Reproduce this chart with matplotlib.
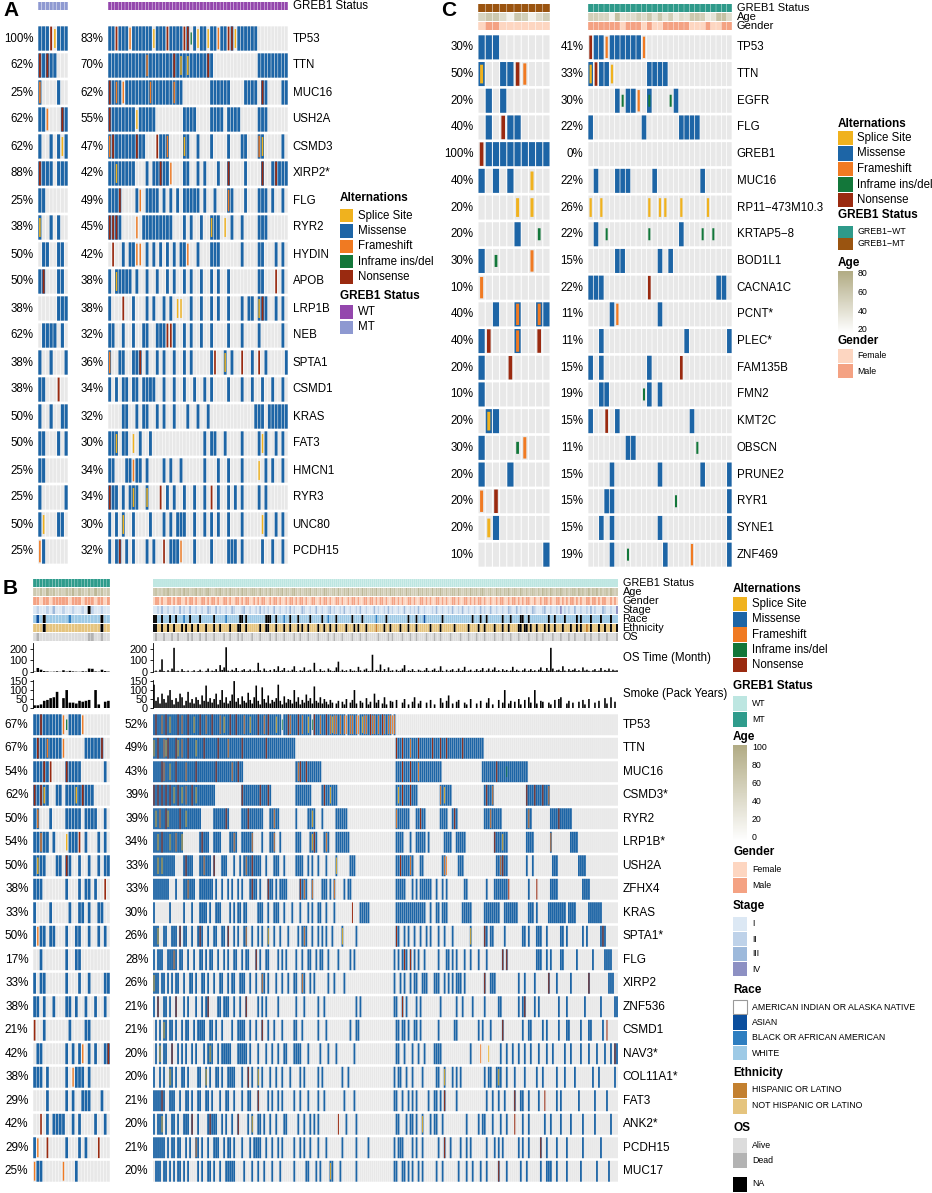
import numpy as np
import matplotlib
matplotlib.use("Agg")
import matplotlib.pyplot as plt
from matplotlib.colors import LinearSegmentedColormap, Normalize
from matplotlib.patches import Rectangle

plt.rcParams['font.family'] = ['Liberation Sans', 'DejaVu Sans']

W, H = 932, 1193

# mutation codes: M missense, S splice, F frameshift, I inframe, N nonsense,
# lower case s/f/i/n = missense plus that second hit, '.' = none

# ---------------- panel A ----------------
a_genes = ["TP53", "TTN", "MUC16", "USH2A", "CSMD3", "XIRP2*", "FLG", "RYR2", "HYDIN", "APOB",
           "LRP1B", "NEB", "SPTA1", "CSMD1", "KRAS", "FAT3", "HMCN1", "RYR3", "UNC80", "PCDH15"]
a_pct_mt = [100, 62, 25, 62, 62, 88, 25, 38, 50, 50, 38, 62, 38, 38, 50, 50, 25, 25, 50, 25]
a_pct_wt = [83, 70, 62, 55, 47, 42, 49, 45, 42, 38, 38, 32, 36, 34, 32, 30, 34, 34, 30, 32]
a_n_mt, a_n_wt = 8, 53
a_mt = ["MMMNSMMM", "nMnMM...", "f....M..", "MMF...nM", "M..M.MSM", "nMMM.MMM", "MM......",
        "s..M.M..", ".MM..MM.", "Mn...MM.", ".....MMM", ".MMMM.M.", "M..M...M", "MM...N..",
        "M..M..MM", "MM...M.M", "MM......", "M......M", "MS...MM.", "FM......"]
a_wt = [
    "MMNMMMFMMM MMMSMMMNMM MMNnIMSMMS MMFMMNnSMM MMMM...... ...",
    "MMMMMMMMMM MfMMMMMMMn MsMsMMMMMn M......... ....MMMMMM MMM",
    "nMfMFMMMMM MMfMMMMMMf MM........ MMMMMM.... MMMM.nM... .MM",
    "nMMMMMMMSM MMMM...... ..MMMM.... MMMM.MMMM. ....MMM... ...",
    "fnMMMMMMnM M...NMMf.. ..sM..M... M....M...M M...fs.... .M.",
    "MMsMMMMM.. .M.MMnMMF. ..MM..M.M. ..M..n.... M....n..Mn MMM",
    "MMMn....MF .MMMM.M.M. M.MMMMM.M. .M...fM... M...MMM.M. .M.",
    "nnnM....F. MMMMMMMMM. ..M.M..M.. sMM.S.M..M ....MMM... ...",
    ".N..M.MMFF .M.M.M.M.M .MMF..M... MMM......M ....MM...M .M.",
    "M.sMMMM.M. .M..M..M.M ..M.M..M.. M.M..M.... ....MM...N .M.",
    "M...N..M.. .M.M..M.M. SS..M..M.. M.M..M...M .MM.snM..M .M.",
    "MM..M..M.. MM..MMMNNM ..M.M..M.. M....M...M ....M..... .M.",
    "f..MM..MMn .M..M.M..M ..M.M..... MN..s.M..N ..M.N.M... ..M",
    "M.M.MM.MM. MMMM..M..M ..M..M..M. M....M...M ..M..M..M. .M.",
    "....MM..M. MM..M.M..M ...M..M..M .......... ...MMM.MMM MMM",
    "MMs.MM.S.M ..M....... ........M. MM..M....M ....MSM..M .M.",
    "MM...MMFMM .M....M.M. .M......M. ..M..M...M ....S.M.M. .M.",
    "nMM.M.MsM. .s...N.M.M ..M..M..M. N.M..M.M.M ....M.M... ...",
    "M.M.s..M.. ..M...M.M. MMM..M..M. M.M..M...M .....SM..M .M.",
    "M.Mn.M.M.. .M.M..N.MM MF...M.... M....MMM.M .....M..M. .M.",
]

# ---------------- panel C ----------------
c_genes = ["TP53", "TTN", "EGFR", "FLG", "GREB1", "MUC16", "RP11\u2212473M10.3", "KRTAP5\u22128",
           "BOD1L1", "CACNA1C", "PCNT*", "PLEC*", "FAM135B", "FMN2", "KMT2C", "OBSCN", "PRUNE2",
           "RYR1", "SYNE1", "ZNF469"]
c_pct_mt = [30, 50, 20, 40, 100, 40, 20, 20, 30, 10, 40, 40, 20, 10, 20, 30, 20, 20, 20, 10]
c_pct_wt = [41, 33, 30, 22, 0, 22, 26, 22, 15, 22, 11, 11, 15, 19, 15, 11, 15, 15, 15, 19]
c_n_mt, c_n_wt = 10, 27
c_mt = ["MMM", "s..MMNF", ".M.M", ".M.NMM", "NMMMMMMMMM", "M.M.M..S", ".....S.S", ".....M..I",
        "M.I....F", "F", "..M..f..fM", "MN...f..N", "M...N", "M", ".sM", "M....IF", "M...M",
        "F.N", ".SM", ".........M"]
c_wt = ["NMMFMMMMMMF", "sNMMS......MMMM", ".....MIMMF.i...IM", "M.........M......MMMM", "",
        ".M...MMM....M........M", "S.S........S.SS..S....S", ".M.I.......I.....M...I.I",
        ".....MM......M.M", "MMM........N............MM", "....MF.......M",
        "..M...............M.......M", "M.M........M.....N", "..MM......IM.M",
        "M..N.M.............M", ".......MM...........I", "....M........M.......M....M",
        "...MM...........I.........M", "..M.M........M............M",
        "....M..I......M....F......M"]
c_age_mt = [50, 60, 60, 45, 30, 60, 55, 30, 45, 55]
c_age_wt = [55, 55, 50, 50, 30, 65, 40, 45, 45, 55, 45, 60, 40, 60, 40, 55, 35, 45, 40, 60,
            60, 55, 35, 40, 65, 65, 45]
c_gender_mt = "FMMFFFFFFF"
c_gender_wt = "MMMMMMFMMMFMFFMMMMMFFFMFFMM"

# ---------------- panel B ----------------
b_genes = ["TP53", "TTN", "MUC16", "CSMD3*", "RYR2", "LRP1B*", "USH2A", "ZFHX4", "KRAS", "SPTA1*",
           "FLG", "XIRP2", "ZNF536", "CSMD1", "NAV3*", "COL11A1*", "FAT3", "ANK2*", "PCDH15", "MUC17"]
b_pct_mt = [67, 67, 54, 62, 50, 54, 50, 38, 33, 50, 17, 33, 38, 21, 42, 38, 29, 42, 29, 25]
b_pct_wt = [52, 49, 43, 39, 39, 34, 33, 33, 30, 26, 28, 26, 21, 21, 20, 20, 21, 20, 21, 20]
b_n_mt, b_n_wt = 24, 232
b_mt = ["MMnMMMMMMFIMMMMF", "MnMMfMMMMF......MMMMMn", "MMMnMN....nMMMM.......M",
        "nMnsM..MM.MMMsMnMMM", "Mf...M....MMMMM.MMMM..M", "MMfMM.M...SMMMN.M...M.M",
        "MsMM...MM.nM..M..M..M.MM", "MMM.......M...M.MM.M..N", "M....M.....M..MM.M..MM",
        "MFMM.MM...M..MM..M..M.M", "..M.......M..MM", "M.MM......M...M..M....MM",
        "MM.M..M...MM.M..M..M..M", "N..M.......M....MM", ".MM.......M.M.MF.M.M..Mn",
        "MMM.M.....M.FMMM.M", "....M.....M.M..MMM...M", "..N.M.MMMM..M.M....M..M",
        "MF..N.....M...M.M...N", "FMM......F...M"]
b_wt = [
    "MnMMfMnMsM MMnMfMMnMM sMMnMMfMMn MMMfMsMMnM MnMMMfMMsM MMnMMfMnMM MsMMIMMnfM MMnMfMMsMI "
    "nMMfMMnMfs ffMfMfFMff MfFMsffMnf fMfMnfMffF f.........",
    "sMnMMfsnMM MnsMfMMnMM MsMMMnMMMM MMnMMMMfMM MMMMnMMMMM MMMMMMnMMM MMMMMMMMMM M......... "
    ".......... .......... .......... .......... .nMMnMMMfM MMnMMMMMMn MMMnMMnMMM MMMMnMMMMM MMMMM.....",
    "MMMMnfMMsM MnMMMMfMMM MnMMMMMMMM MnMMMMMMMf MMnMM..... .......... .......... .MfnMMnMMM "
    "MMMM...... .......... .......... .......... .MMMnMMMnM MMfMMMMMMM MMMM...... .......... "
    "....MMMMMM MnMMMMiMMM MMMMMMM...",
    "nMnMnMnMnM sMnMsMfMMn MsMMMMMMMM M......... ....nMMMMM MMMnMMMnM. .......... .MMMMMMMM. "
    "....MnMMsM MM........ .......... .......... .MsMnMMMnM MM........ ...fMsMMM. .......... "
    ".....MnMMf .......... ......nMMM nMMMnMMf..",
    "MsMfMMnsMM MMMnMMsMMM MMMM...... MMMMMMnM.. ....MMMnMM MMMMM...MM fMM....... .M.....MMs "
    "M...M..... .MMMMMM... .......... .......... .fMMMMMM.. .MMnMM.... ...MMMM..M nM........ "
    ".....MMMfM MMMM...... ......MfM. ........MM MMnMMMMMM.",
    "MMsMnMMMsM MfMMs..... ...MnMMM.. MMMM....MM fM..MMMMMf ....M...MM f..M...... .MMM....Ms "
    "nM...MfM.. .MMMMMMM.. .......... .......... .MMMM...M. .MMMMM.M.. .....MMMM. .MMMMM.... "
    ".......... nMMMsMM... ......MMMM ........f. ........MM MM........",
    "MMsMsMMMMM M....MnMMM ...MMfMMM. n...MMM... M..M.MfMMn MMMM..M... MMM..M.... .MMMM..M.M "
    "..M...M... .s......MM M......... .......... .MMnMMMMfM ...MM..... ....MfF... ..MMM..... "
    ".......... .MMfnMM... ......M..M .........M MM........ ..MMMM....",
    "MMMMMMMM.. .M...MMfMM M..MMMMMMM .M..M..M.M ..M.M...Mn MM.M...nMM .M.MMMM... ...nMfM..f "
    "....MMM.M. f....M.MM. .......... .......... .MMMMM...M .M.MMMMMM. .M..M.M... .....MM... "
    "......M... MMMMMMMN.. .......M.. .N......MM MM........ ....MMMM..",
    "M.......M. .....M...M ...MMMM.M. .MMM....M. M.MM.MM... ..MMM..M.. MMM..M...M ...M...M.M "
    "..MM..M... M........N ...MMMMM.. .......... .MMMMMMMMM MMMMMM..M. .MM.MMM... ....MMMMM. "
    ".....MMMMM MMM..MMMMM MM.....MMM .M.....MMM MMMMMM.MMM M......MMM MMMM......",
    "MMs..MM..M MM.n.MM..M ..MnM..M.. MM..MM.n.. M.M..Mf..M ..M.M..s.. M..M...M.. ..M.MfM..M "
    "..M.M.M..M ....s..... .M........ .......... .nM..M.M.. M..M..M.M. ..M..M...M ........s. "
    ".....nM.MM .....M.... ....MM.M.. .MMM..M... ...MM.M... ....M.M... ...MnM....",
    "M.MMM..MMM fM.MM..M.. M..MM.M.MM ..M..M.M.. MM..M.MM.. .n.M..MM.. ..M.M.M... .M..M..MM. "
    ".M.MM..M.. ..M.....M. M......... .......... M.M.MnM.n. M.M..M.... ..M...MM.M .M...M..M. "
    "..M...M... ....n.n... .......... .MMM..M.M. ...MM..... .M.......M .....MMMM.",
    "sMM.MM.M.M .MM..M..MM .M..MM.M.. M..MM..M.M M..MMM..M. .M..fM.M.. .M..M..M.. MM..fM..M. "
    "M......M.. M....M.... .......... .......... M..M.M..M. MM..MMM... MMM..M.M.M .MMM.M.... "
    ".....n..MM M......... ..M..M.... M......n.. .M......M. .......n.. .......MMM",
    "M.n..MM.M. .n...M.M.. .M..M.Mn.. ..MM.MMM.. M..M..n... ..M.M.M... ..M....... .M...M.... "
    "..M..M.... .......... .M.M...... .......... MM..n.M... .M.M...... ...M...... .M..M....M "
    ".....M.... ..MM...... ..M.Mn.... M.M....... ..M...M... .....M.... ...M...... MM",
    ".M.M.sM.MM .M..M.MM.. M.MMMM..MM .M..M....M ..MMMM..M. .M..n..M.. M...M..... MM..M..... "
    "..M...M... ........M. .MM....... .......... .MM.MM.M.. MM.M...... ..M....... MM........ "
    "..M.M...M. ....n..... ....M..MM. ....M.M... ..M...MM.. ...M...MM. ....M.N...",
    ".M.s.MM..n ..M.M.M..M .M...M.MsM ..M.MMMMM. ..MMMMM.M. ..M...M..M ..M..MM... MMMM...M.. "
    "...M...M.. .M........ M......... .......... .MM..M...M ..M..M.... MMMM...... ........M. "
    "...F...S.. ...M..M..M ..M..M..M. ..M...M..M .....M..M. ...M...M.. .M...M..M. nM",
    "M..M.M..sM .M..MM.M.. ..MM..s.M. .MM.M..MMM M...M..n.M ..s.M...M. .M..M...M. ...M.M.... "
    "..M.M..... ....M..M.. .......... .......... M.MM..M..M ....M..... .MM..s...M .M.M...... "
    ".....M.MM. .MsM..M... M....M.... .M..M..... .M...M.... M........M ..M....... M.",
    "MMMMnM..MM M..M..MM.M ..MM..MM.M ...M..MM.. M...M..MM. ..n....M.M ..M.M..... M..M...M.. "
    "..M..M.... .....M.... M......... .......... MM..M..M.M .M.....M.. MM.M.n.... .M........ "
    "......M..M ..M..M.... n..MM..M.. ..M..N.... .M.M...... ..M....... M.....M...",
    "M.MMs.M..M M.M..MMM.n ..M....MnM MM..M.M..M ..n....M.s ..MM.M..M. .M...MM... ..M..M..M. "
    "M.M....... ..N...M... .M........ .......... .MM...M.MM .M..s...M. MM..M..... ......M... "
    "..M.MM...M ...M..M... N...M..M.. .....M..M. ...M....M. ....M..... M.......M.",
    "MMMMMM.M.M M.MM..M.M. .fM.M..M.. MMM..M.MM. M...M...M. MMMM..M..M ..M.M..... M..M.M..M. "
    "..M...M... ....M..... .M.....M.. .......... M.MMM....M .M..M..... ..M..n..M. ...M..M.M. "
    "......M... M.M.M..... ..M.M..M.. ...n..M... .M....M... ....M..... ...M......",
    ".MMM.MM.M. M.MM.M.M.. ..M.M..MM. M..M..MMMM M....M...M ..M..M...M ...M...... M.....MM.. "
    ".M.M....sM ...M...... .M........ .......... MM..MM.M.M ..M.M..... .M..M..... ..M...M..M "
    "...M..M... ..n...M... ...M..M... ...M..MMM. .M....M... ...M...... .M.....M..",
]

b_age_mt = "657586756576857657586756"
b_age_wt = ("6756576865 7567586756 6857657865 5768657586 6575867567 7658657586 5676857657 8657567685 "
            "6756587656 7586576857 5675867567 6857657586 7567658675 6586757658 5768657567 7586567586 "
            "6757865675 5867576856 7658657567 6575867586 5768657567 7586756857 6857567586 5676857657")
b_gender_mt = "MMFMMFMMMMMFMMMFMMMFMMFM"
b_gender_wt = ("FMMFMFFMMF MFMMFFMFMM FMFFMMFMFM MFMFFMMFMF FMMFMFMMFF MFMFMMFFMF MMFMFFMFMM FMFMMFMFFM "
               "MFFMFMMFMF FMMFMFFMFM MFMFFMMFMM FMFMMFMFFM MFMFMFFMMF MFFMMFMFMF FMMFMFMFFM MFMFFMMFMF "
               "MFMMFMFFMF FMFMMFFMFM MFMFMFMMFF MFFMFMMFMF FMMFMFMFMM FMFMFFMMFM MFMFMMFFMF MFMFMFMFMM")
b_stage_mt = "1211213112112112" + "1x211211"
b_stage_wt = ("1121311211 2113121131 1211211321 1312112113 2111231121 1213121211 3112112131 2111321121 "
              "1311211231 2112131121 1213112111 3121121312 1121131121 2131121112 1311211213 1121311211 "
              "2113121131 1211211321 1312112113 2111231121 1214121211 3112112131 2111321121 141x211231")
b_race_mt = "WAWxWWWWWWWBWWWWWWWWWxWW"
b_race_wt = ("xxWWxWWWxW WxWWWBWWxW WWWxWWWWWW xWWWWWBWWW WWWxxWxWWW WWWWWWxxxW WxWWWBWWxW WWxWWWWWxW "
             "WWWWxWWBWW WxWWWWWWWx WWWWxWWWWW WBWWWWxWWW WWWWWWWxWW WxWWWAWWWW WWWWxWWWWW WWWWWWWWWx "
             "WWWxWWxWWW WWWWxWWWxW WWWxxWWxWW WWWWWWWxWW xWWWWxWWWW WxWxWWWWxW WWWxWWWWxW WWxWWxWWWW")
b_eth_mt = "NNNxNNNNNNNNNNNNNNNNNxNN"
b_eth_wt = ("xxNNxNNxNN xNNNxNxNNx NNxNNNxNNN xNNxNNNNxN NNxxNNxNNN NNNxNNxxNN NxNNNxNNxN NNxNxNNxNN "
            "NNxNNxNNxN NxNNNNxNNN xNxNNNxNNN NHNNNxNNxN NNNxNNNxNN NxNNNNNNxN NNNxNNNNNN xNNNNNNxNN "
            "NNxNNxNNNN xNNNxNNxNN NNxxNxxNxN NxNNNxNxNN xNNNxNNNxN NxNxNNHNxN NNxNNxNNxN NxNNxNNNNx")
b_os_mt = "ADAAAAAAAAAAAAAAADDAADAA"
b_os_wt = ("ADAAADAAAD AADAAAADAD AAADAADAAA DAAAADAADA AADADAAAAD AAADAAAADA ADAAADAAAA DAADAAADAA "
           "AADAAAADAA DAAADAAAAD AAADAADAAA AADAAAADAD AAAADAAADA ADAAAADAAA DAADAAAADA AAADAAADAA "
           "ADAAADAAAA DAAADAAADA AADAAAADAA ADAADAAAAD AAADAAADAA DAAAADAADA AADAAADAAA ADAAAADAAD")

b_ostime_mt = [4, 35, 20, 8, 5, 2, 3, 6, 2, 15, 4, 10, 5, 3, 2, 6, 4, 30, 28, 5, 3, 20, 8, 4]
b_ostime_wt = np.array("""
5 12 3 20 110 8 2 15 4 30  210 6 10 3 25 8 4 12 2 6  15 3 8 20 5 2 10 30 4 12
8 25 5 60 18 40 215 12 6 20  10 35 8 4 15 25 6 10 22 5  12 8 80 15 4 30 10 6 18 3
25 10 50 8 15 35 5 12 6 20  50 8 3 15 10 40 6 12 20 4  80 10 5 25 8 12 3 30 15 6
10 40 90 5 20 8 15 3 25 10  12 6 45 15 4 20 30 8 10 150  5 18 12 65 8 25 6 40 10 15
3 20 8 12 30 60 5 15 10 25  8 4 20 12 6 15 35 10 5 18  30 8 12 50 10 4 20 6 15 25
5 10 30 8 15 45 6 12 20 4  10 25 8 15 35 5 12 30 6 20  40 8 15 5 25 10 18 6 12 45
8 20 10 4 15 30 6 12 25 8  15 5 20 40 10 8 35 12 210 30  6 15 20 8 50 12 5 25 10 18
30 8 15 6 40 12 20 10 5 15  25 8 12 35 6 18 10 30 8 20  12 15
""".split(), float)
b_smoke_mt = [15, 15, 20, 40, 45, 55, 60, 90, 0, 55, 100, 30, 30, 25, 40, 35, 40, 45, 0, 100,
              20, 0, 35, 40]
b_smoke_wt = np.array("""
130 40 60 25 80 50 30 70 100 45  20 55 35 80 60 15 40 90 30 50  25 60 45 20 70 40 125 35 55 30
50 80 20 45 100 30 60 25 40 75  150 35 55 20 65 40 30 85 45 25  60 125 40 20 115 50 30 70 25 45
35 55 130 40 20 65 30 50 45 25  100 35 60 20 45 30 75 40 55 25  120 40 30 60 25 50 35 20 45 30
0 25 40 0 35 20 50 0 30 45  100 25 0 40 30 0 55 20 35 0  80 30 45 0 25 60 20 0 40 35
0 45 0 0 30 50 0 20 0 35  60 0 25 40 0 0 30 0 45 0  20 0 0 55 30 0 40 70 0 25
0 35 45 0 0 30 20 0 50 0  0 25 0 40 0 0 30 55 0 20  0 0 45 0 30 100 0 25 40 0
35 0 50 20 0 45 0 60 30 0  100 25 0 40 35 0 0 30 20 0  45 0 50 60 0 0 25 40 0 30
0 0 35 0 45 20 0 50 0 0  30 0 40 0 0 55 25 0 60 0  35 0
""".split(), float)

# ---------------- colours ----------------
MIS, SPL, FRA, INF, NON, BG = "#1D65A6", "#F0B21E", "#F07A22", "#13773A", "#9A2A10", "#E8E8E8"
STYLE = {"S": (SPL, 0.42, 0.70), "F": (FRA, 0.42, 0.80), "N": (NON, 0.50, 0.88), "I": (INF, 0.38, 0.45)}
A_WT, A_MT = "#9447AD", "#8E99D1"
C_WT, C_MT = "#2E9A8A", "#9A5410"
B_WT, B_MT = "#BDE6E1", "#2F9C8C"
GENDER = {"F": "#FDD6C1", "M": "#F4A283"}
STAGE = {"1": "#DCE8F4", "2": "#BED2E9", "3": "#9DB9DB", "4": "#8D90C3", "x": "black"}
RACE = {"I": "white", "A": "#0B4F9E", "B": "#2E7EC0", "W": "#9ECAE6", "x": "black"}
ETH = {"H": "#C3802F", "N": "#E5C47E", "x": "black"}
OS = {"A": "#DCDCDC", "D": "#B3B3B3", "x": "black"}
age_cmap = LinearSegmentedColormap.from_list("age", ["white", "#B2AC85"])

fig = plt.figure(figsize=(W / 100, H / 100), dpi=100)


def px_axes(x0, y0, x1, y1):
    return fig.add_axes([x0 / W, 1 - y1 / H, (x1 - x0) / W, (y1 - y0) / H])


def clean(s, n):
    s = "".join(s.split())
    return (s + "." * n)[:n]


def oncoprint(ax, rows, n, gx=0.14, gy=0.1):
    rows = [clean(r, n) for r in rows]
    nr = len(rows)
    codes = np.array([list(r) for r in rows])
    cx, cy = np.meshgrid(np.arange(n), np.arange(nr))
    ax.bar(cx.ravel() + 0.5, 1 - gy, width=1 - gx, bottom=cy.ravel() + gy / 2, color=BG,
           linewidth=0, snap=False)
    yy, xx = np.nonzero(np.isin(codes, list("Msfni")))
    ax.bar(xx + 0.5, 1 - gy, width=1 - gx, bottom=yy + gy / 2, color=MIS, linewidth=0, snap=False)
    for k, (col, w, h) in STYLE.items():
        yy, xx = np.nonzero((codes == k) | (codes == k.lower()))
        if len(xx):
            ax.bar(xx + 0.5, h, width=w, bottom=yy + (1 - h) / 2, color=col, linewidth=0, snap=False)
    ax.set_xlim(0, n)
    ax.set_ylim(nr, 0)
    ax.axis("off")


def side_labels(ax, labels, side, fs=8.3):
    for r, t in enumerate(labels):
        if side == "left":
            ax.annotate(t, xy=(0, r + 0.5), xycoords=("axes fraction", "data"), xytext=(-3.3, 0),
                        textcoords="offset points", ha="right", va="center", fontsize=fs)
        else:
            ax.annotate(t, xy=(1, r + 0.5), xycoords=("axes fraction", "data"), xytext=(3.3, 0),
                        textcoords="offset points", ha="left", va="center", fontsize=fs)


def track(ax, colors, gx=0.12, label=None, fs=8):
    n = len(colors)
    ax.bar(np.arange(n) + 0.5, 1, width=1 - gx, bottom=0, color=colors, linewidth=0, snap=False)
    ax.set_xlim(0, n)
    ax.set_ylim(0, 1)
    ax.axis("off")
    if label:
        ax.annotate(label, xy=(1, 0.5), xycoords="axes fraction", xytext=(3.3, 0),
                    textcoords="offset points", ha="left", va="center", fontsize=fs)


def barplot(ax, vals, ymax, ticks):
    vals = np.asarray(vals, float)
    ax.bar(np.arange(len(vals)) + 0.5, vals, width=0.8, color="black", linewidth=0, snap=False)
    ax.set_xlim(0, len(vals))
    ax.set_ylim(0, ymax)
    for s in ["top", "right", "bottom"]:
        ax.spines[s].set_visible(False)
    ax.spines["left"].set_linewidth(0.6)
    ax.set_xticks([])
    ax.set_yticks(ticks)
    ax.tick_params(axis="y", length=2.5, width=0.6, pad=1.5, labelsize=7.8)
    ax.patch.set_alpha(0)


def pct(v):
    return [f"{x}%" for x in v]


# ---------------- panel A drawing ----------------
ax = px_axes(38, 25, 68, 565)
oncoprint(ax, a_mt, a_n_mt, gx=0.16)
side_labels(ax, pct(a_pct_mt), "left")
ax = px_axes(108, 25, 288, 565)
oncoprint(ax, a_wt, a_n_wt, gx=0.16)
side_labels(ax, pct(a_pct_wt), "left")
side_labels(ax, a_genes, "right")
track(px_axes(38, 2, 68, 10), [A_MT] * a_n_mt)
track(px_axes(108, 2, 288, 10), [A_WT] * a_n_wt, label="GREB1 Status", fs=8.3)

# ---------------- panel C drawing ----------------
ax = px_axes(478, 34, 550, 568)
oncoprint(ax, c_mt, c_n_mt, gx=0.14)
side_labels(ax, pct(c_pct_mt), "left")
ax = px_axes(588, 34, 732, 568)
oncoprint(ax, c_wt, c_n_wt, gx=0.14)
side_labels(ax, pct(c_pct_wt), "left")
side_labels(ax, c_genes, "right")
c_norm = Normalize(20, 80)
track(px_axes(478, 4, 550, 12), [C_MT] * c_n_mt, gx=0.06)
track(px_axes(588, 4, 732, 12), [C_WT] * c_n_wt, gx=0.06, label="GREB1 Status")
track(px_axes(478, 13, 550, 21), [age_cmap(c_norm(v)) for v in c_age_mt], gx=0.06)
track(px_axes(588, 13, 732, 21), [age_cmap(c_norm(v)) for v in c_age_wt], gx=0.06, label="Age")
track(px_axes(478, 22, 550, 30), [GENDER[g] for g in c_gender_mt], gx=0.06)
track(px_axes(588, 22, 732, 30), [GENDER[g] for g in c_gender_wt], gx=0.06, label="Gender")

# ---------------- panel B drawing ----------------
ax = px_axes(33, 713, 110, 1183)
oncoprint(ax, b_mt, b_n_mt, gx=0.15, gy=0.11)
side_labels(ax, pct(b_pct_mt), "left", fs=8.5)
ax = px_axes(153, 713, 618, 1183)
oncoprint(ax, b_wt, b_n_wt, gx=0.1, gy=0.11)
side_labels(ax, pct(b_pct_wt), "left", fs=8.5)
side_labels(ax, b_genes, "right", fs=8.5)

b_norm = Normalize(0, 100)
tracks_mt = [[B_MT] * b_n_mt,
             [age_cmap(b_norm(int(d) * 10 + 5)) for d in clean(b_age_mt, b_n_mt)],
             [GENDER[g] for g in clean(b_gender_mt, b_n_mt)],
             [STAGE[s] for s in clean(b_stage_mt, b_n_mt)],
             [RACE[s] for s in clean(b_race_mt, b_n_mt)],
             [ETH[s] for s in clean(b_eth_mt, b_n_mt)],
             [OS[s] for s in clean(b_os_mt, b_n_mt)]]
tracks_wt = [[B_WT] * b_n_wt,
             [age_cmap(b_norm(int(d) * 10 + 5)) for d in clean(b_age_wt, b_n_wt).replace(".", "6")],
             [GENDER.get(g, GENDER["F"]) for g in clean(b_gender_wt, b_n_wt)],
             [STAGE.get(s, STAGE["1"]) for s in clean(b_stage_wt, b_n_wt)],
             [RACE.get(s, RACE["W"]) for s in clean(b_race_wt, b_n_wt)],
             [ETH.get(s, ETH["N"]) for s in clean(b_eth_wt, b_n_wt)],
             [OS.get(s, OS["A"]) for s in clean(b_os_wt, b_n_wt)]]
track_names = ["GREB1 Status", "Age", "Gender", "Stage", "Race", "Ethnicity", "OS"]
for i, name in enumerate(track_names):
    y0 = 579 + 9 * i
    track(px_axes(33, y0, 110, y0 + 8), tracks_mt[i], gx=0.08)
    track(px_axes(153, y0, 618, y0 + 8), tracks_wt[i], gx=0.06, label=name, fs=7.8)

barplot(px_axes(33, 643, 110, 672), b_ostime_mt, 252, [0, 100, 200])
ax = px_axes(153, 643, 618, 672)
barplot(ax, b_ostime_wt[:b_n_wt], 252, [0, 100, 200])
ax.annotate("OS Time (Month)", xy=(1, 0.5), xycoords="axes fraction", xytext=(3.3, 0),
            textcoords="offset points", ha="left", va="center", fontsize=8.3)
barplot(px_axes(33, 680, 110, 708), b_smoke_mt, 156, [0, 50, 100, 150])
ax = px_axes(153, 680, 618, 708)
barplot(ax, b_smoke_wt[:b_n_wt], 156, [0, 50, 100, 150])
ax.annotate("Smoke (Pack Years)", xy=(1, 0.5), xycoords="axes fraction", xytext=(3.3, 0),
            textcoords="offset points", ha="left", va="center", fontsize=8.3)

# ---------------- legends and panel letters ----------------
lg = fig.add_axes([0, 0, 1, 1])
lg.set_xlim(0, W)
lg.set_ylim(H, 0)
lg.axis("off")

alt_items = [("Splice Site", SPL), ("Missense", MIS), ("Frameshift", FRA),
             ("Inframe ins/del", INF), ("Nonsense", NON)]


def legend(x, y_title, title, items, y0, pitch, sq_w, sq_h, fs, tx=None, edge=None):
    if title:
        lg.text(x, y_title, title, fontsize=8.5, fontweight="bold", va="center", ha="left")
    tx = tx if tx is not None else x + sq_w + 5
    for i, (lab, col) in enumerate(items):
        yc = y0 + i * pitch
        ec = edge if (edge and col == "white") else "none"
        lg.add_patch(Rectangle((x, yc - sq_h / 2), sq_w, sq_h, facecolor=col, edgecolor=ec, lw=0.8))
        lg.text(tx, yc, lab, fontsize=fs, va="center", ha="left")


def gradient(x, y0, y1, w, vmin, vmax, ticks, fs):
    grad = np.linspace(1, 0, 64)[:, None]
    lg.imshow(grad, cmap=age_cmap, vmin=0, vmax=1, extent=(x, x + w, y1, y0), aspect="auto",
              origin="upper")
    for t in ticks:
        yt = y0 + 3 + (vmax - t) / (vmax - vmin) * (y1 - y0 - 6)
        lg.text(x + w + 5, yt, str(t), fontsize=fs, va="center", ha="left")
    lg.set_xlim(0, W)
    lg.set_ylim(H, 0)


# A legend
legend(340, 198, "Alternations", alt_items, 215.5, 15.4, 13, 13.5, 8.3, tx=358)
legend(340, 296, "GREB1 Status", [("WT", A_WT), ("MT", A_MT)], 312, 15.4, 13, 13.5, 8.3, tx=358)

# C legend
legend(838, 124, "Alternations", alt_items, 138, 15.5, 15, 14.5, 8.3, tx=857)
legend(838, 215, "GREB1 Status", [("GREB1\u2212WT", C_WT), ("GREB1\u2212MT", C_MT)], 232, 12, 15, 11.5,
       6.3, tx=857)
lg.text(838, 263, "Age", fontsize=8.5, fontweight="bold", va="center")
gradient(838, 271, 333, 15, 20, 80, [80, 60, 40, 20], 6.3)
legend(838, 341, "Gender", [("Female", GENDER["F"]), ("Male", GENDER["M"])], 356, 15, 15, 14, 6.3,
       tx=857)

# B legend
legend(733, 589, "Alternations", alt_items, 604, 15.3, 14, 14.5, 8.3, tx=752)
legend(733, 686, "GREB1 Status", [("WT", B_WT), ("MT", B_MT)], 703, 16, 14, 15, 6.3, tx=752)
lg.text(733, 737, "Age", fontsize=8.5, fontweight="bold", va="center")
gradient(733, 745, 841, 14, 0, 100, [100, 80, 60, 40, 20, 0], 6.3)
legend(733, 852, "Gender", [("Female", GENDER["F"]), ("Male", GENDER["M"])], 869, 16, 14, 15, 6.3,
       tx=752)
legend(733, 906, "Stage", [("I", STAGE["1"]), ("II", STAGE["2"]), ("III", STAGE["3"]),
                           ("IV", STAGE["4"])], 924, 15, 14, 14.5, 6.3, tx=752)
legend(733, 990, "Race", [("AMERICAN INDIAN OR ALASKA NATIVE", RACE["I"]), ("ASIAN", RACE["A"]),
                          ("BLACK OR AFRICAN AMERICAN", RACE["B"]), ("WHITE", RACE["W"])],
       1007, 15.4, 14, 14.5, 6.3, tx=752, edge="#999999")
legend(733, 1073, "Ethnicity", [("HISPANIC OR LATINO", ETH["H"]), ("NOT HISPANIC OR LATINO", ETH["N"])],
       1090, 16, 14, 15, 6.3, tx=752)
legend(733, 1128, "OS", [("Alive", OS["A"]), ("Dead", OS["D"])], 1145, 15.5, 14, 15, 6.3, tx=752)
legend(733, None, None, [("NA", "black")], 1184, 15, 14, 15, 6.3, tx=752)

lg.text(3, 11, "A", fontsize=15, fontweight="bold", va="center", ha="left")
lg.text(3, 588, "B", fontsize=15, fontweight="bold", va="center", ha="left")
lg.text(441, 11, "C", fontsize=15, fontweight="bold", va="center", ha="left")

fig.savefig("out.png", dpi=100)
